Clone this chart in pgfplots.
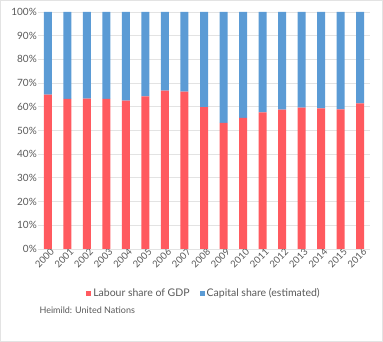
\documentclass[border=0pt]{standalone}
\usepackage{pgfplots}
\pgfplotsset{compat=1.18}
\usepackage{fontspec}
\setmainfont{Lato}
\definecolor{labour}{HTML}{FF5A5F}
\definecolor{capital}{HTML}{5B9BD5}
\definecolor{txt}{HTML}{595959}
\definecolor{gridc}{HTML}{E3E3E3}
\begin{document}
\begin{tikzpicture}[x=1pt,y=1pt]
\draw[draw=gridc,line width=1pt] (0.5,0.5) rectangle (382.5,341.5);
\begin{axis}[
  at={(38pt,93pt)}, anchor=south west,
  scale only axis, width=332pt, height=237pt,
  ybar stacked, bar width=8pt,
  xmin=-0.5, xmax=16.5, ymin=0, ymax=100,
  xtick={0,...,16},
  xticklabels={2000,2001,2002,2003,2004,2005,2006,2007,2008,2009,2010,2011,2012,2013,2014,2015,2016},
  x tick label style={rotate=45, anchor=north east, font=\fontsize{9.5}{11}\selectfont, text=txt, inner sep=0.5pt, xshift=3pt},
  ytick={0,10,...,100},
  yticklabel={\pgfmathprintnumber{\tick}\%},
  y tick label style={font=\fontsize{10}{11}\selectfont, text=txt, inner sep=1pt},
  /pgf/number format/assume math mode=true,
  ymajorgrids, grid style={gridc, line width=0.8pt},
  axis x line*=bottom, axis y line*=left,
  y axis line style={draw=none},
  x axis line style={draw=gridc, line width=0.8pt},
  major tick length=0pt,
  tick style={draw=none},
  legend style={at={(0.5,-0.15)}, anchor=north, draw=none, legend columns=2,
    font=\fontsize{10.5}{12}\selectfont, text=txt,
    /tikz/every even column/.append style={column sep=8pt}},
  legend image code/.code={\fill[#1] (0pt,-2.5pt) rectangle (5pt,2.5pt);},
]
\addplot[fill=labour, draw=none] coordinates {
(0,65.1) (1,63.3) (2,63.5) (3,63.3) (4,62.6) (5,64.4) (6,66.8) (7,66.4) (8,59.9)
(9,53.2) (10,55.3) (11,57.6) (12,58.8) (13,59.6) (14,59.3) (15,58.9) (16,61.4)};
\addplot[fill=capital, draw=none] coordinates {
(0,34.9) (1,36.7) (2,36.5) (3,36.7) (4,37.4) (5,35.6) (6,33.2) (7,33.6) (8,40.1)
(9,46.8) (10,44.7) (11,42.4) (12,41.2) (13,40.4) (14,40.7) (15,41.1) (16,38.6)};
\legend{Labour share of GDP, Capital share (estimated)}
\end{axis}
\node[anchor=west, text=txt, font=\fontsize{9}{10}\selectfont] at (36pt,32pt) {Heimild: United Nations};
\end{tikzpicture}
\end{document}
